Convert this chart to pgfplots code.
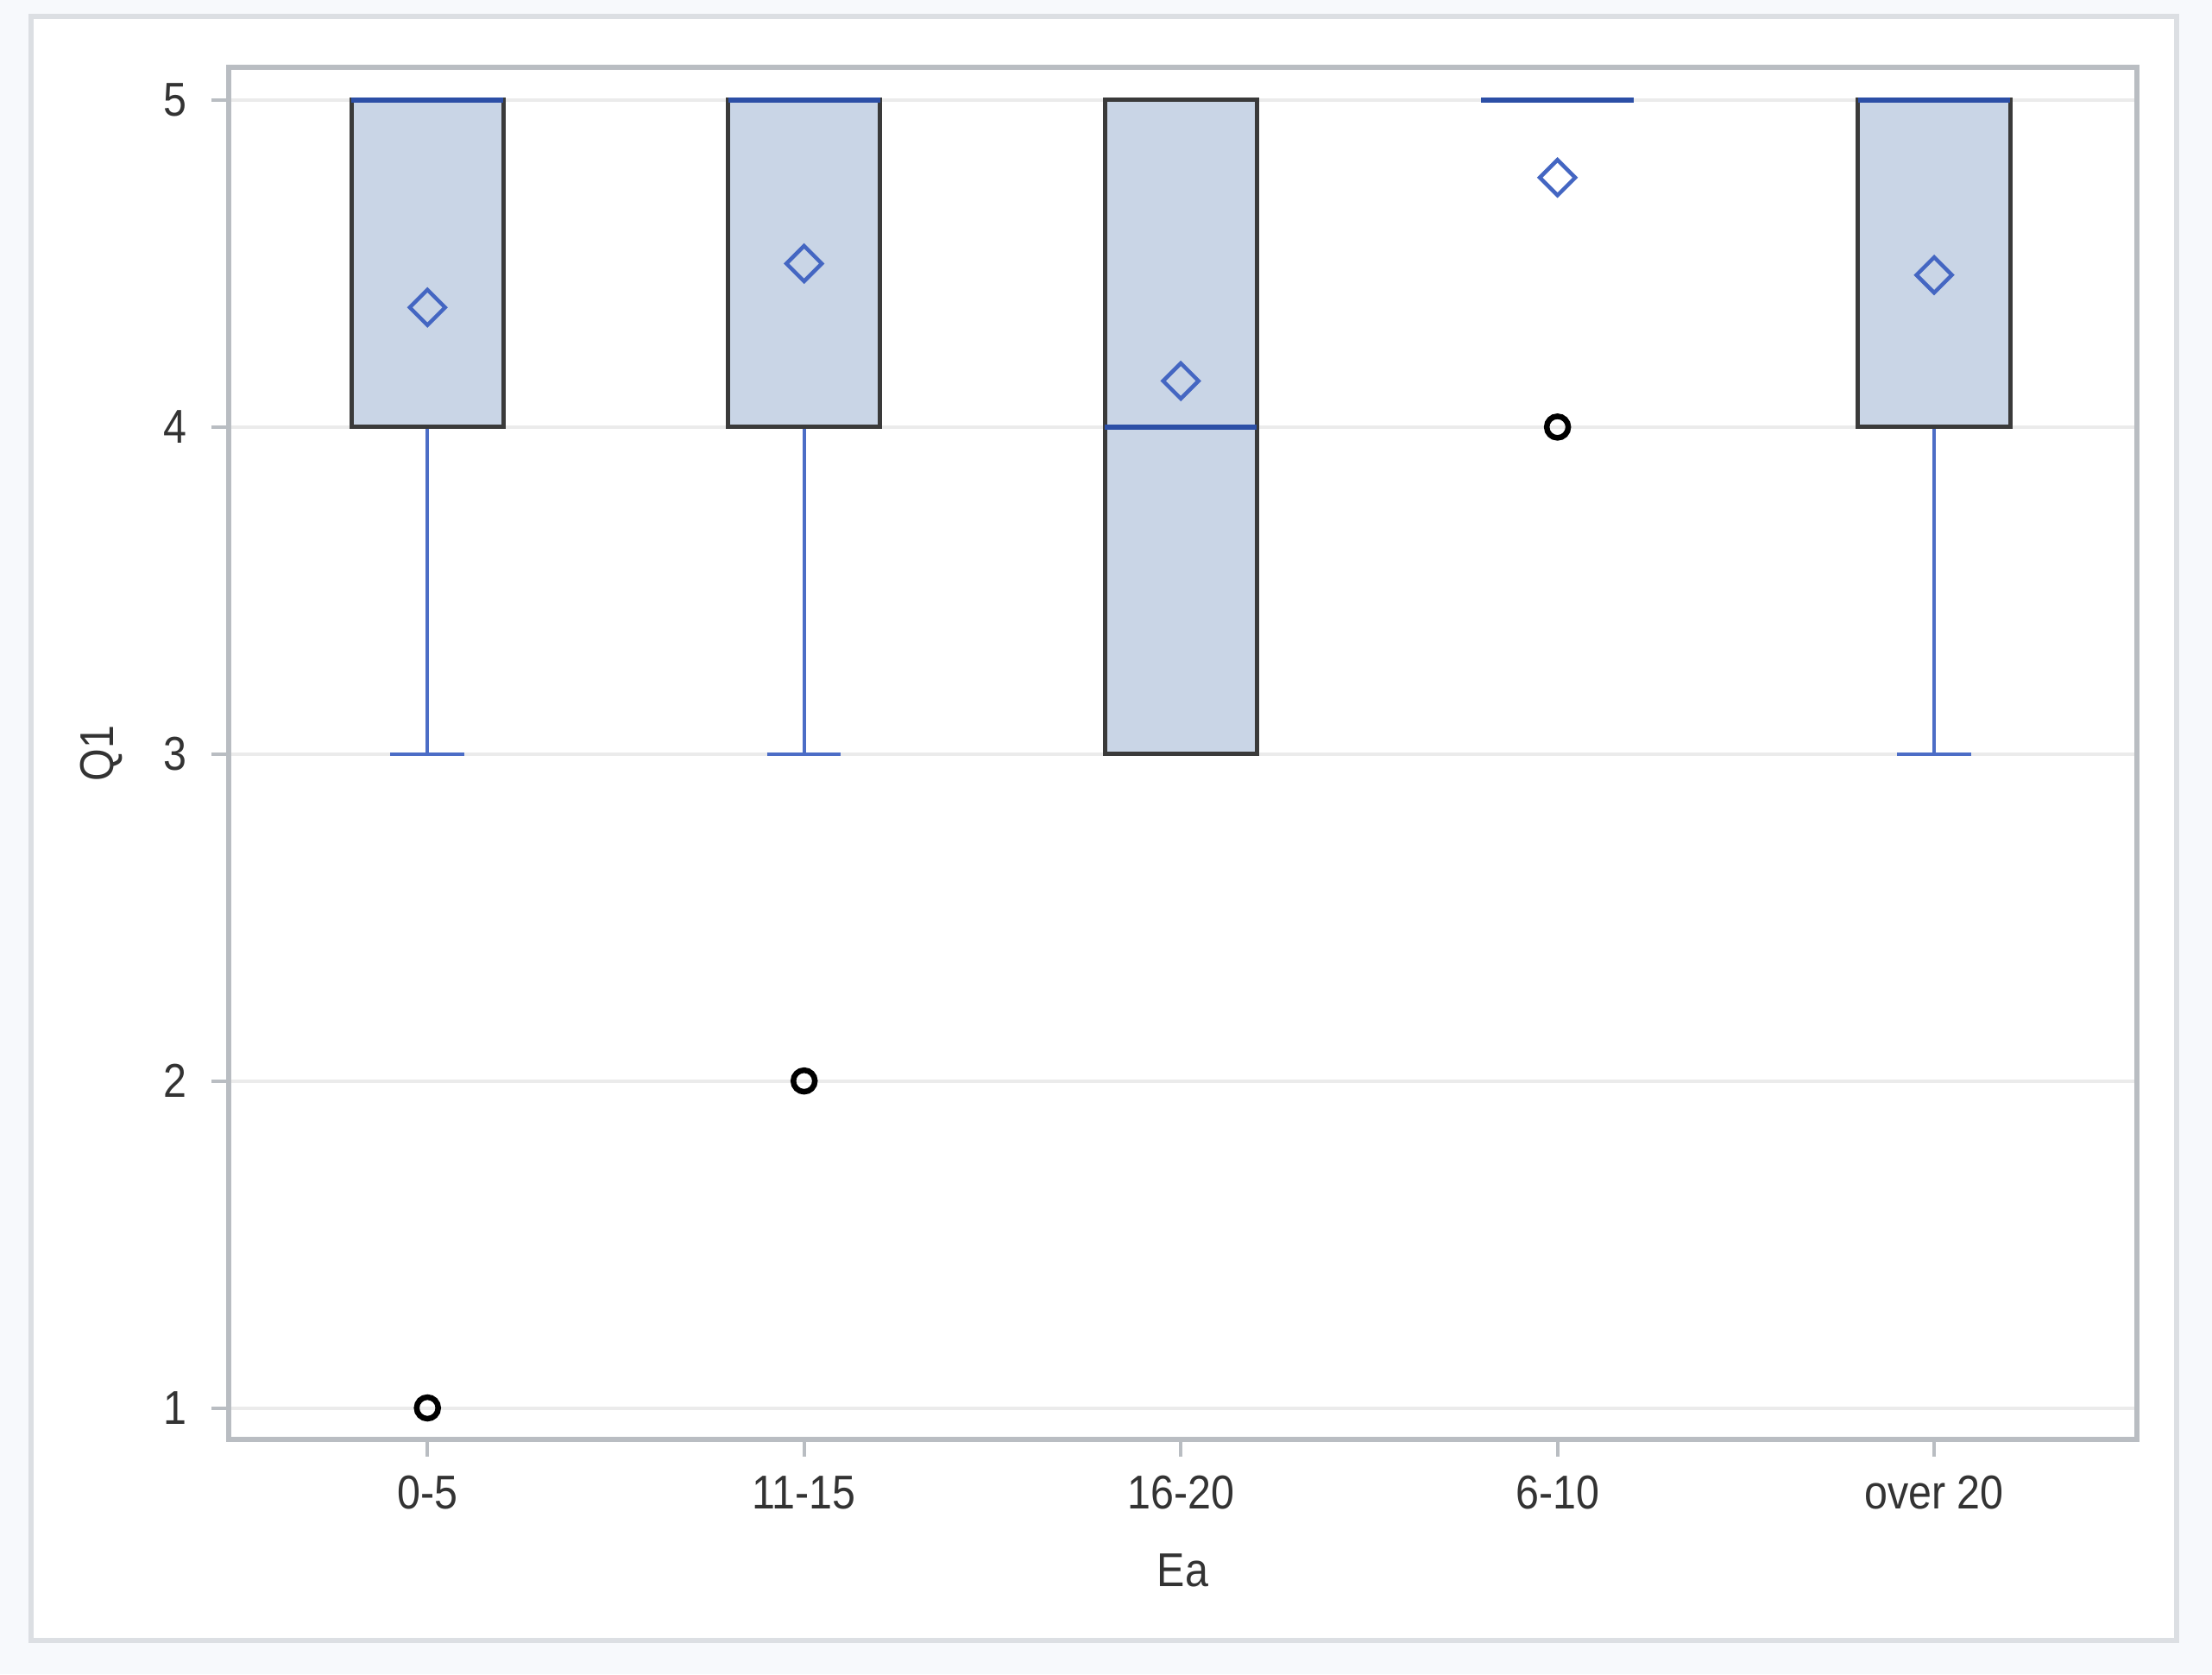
\documentclass[border=0pt]{standalone}
\usepackage{fontspec}
\setmainfont{Liberation Sans}[FakeStretch=0.88]
\usepackage{pgfplots}
\pgfplotsset{compat=1.18}
\usepgfplotslibrary{statistics}
\definecolor{bgtint}{HTML}{F7F9FC}
\definecolor{framegray}{HTML}{DCDFE3}
\definecolor{axgray}{HTML}{B9BDC2}
\definecolor{gridgray}{HTML}{EBEBEB}
\definecolor{boxfill}{HTML}{C9D5E6}
\definecolor{boxedge}{HTML}{3A3A3A}
\definecolor{medblue}{HTML}{2C4FA6}
\definecolor{whiskblue}{HTML}{4C6DC6}
\definecolor{meanblue}{HTML}{4466C2}
\definecolor{txt}{HTML}{333333}
\begin{document}
\begin{tikzpicture}
\fill[bgtint] (0,0) rectangle (512.6pt,388pt);
\filldraw[fill=white, draw=framegray, line width=1.2pt] (7.2pt,7.8pt) rectangle (504.4pt,384.1pt);
\begin{axis}[
  at={(52.96pt,54.5pt)}, anchor=south west,
  scale only axis, width=442.3pt, height=317.8pt,
  xmin=-0.528, xmax=4.539, ymin=0.905, ymax=5.099,
  xtick={0,1,2,3,4},
  xticklabels={0-5,11-15,16-20,6-10,over 20},
  ytick={1,2,3,4,5},
  ymajorgrids, grid style={gridgray, line width=0.8pt},
  axis line style={axgray, line width=1.2pt},
  tick style={axgray, line width=0.8pt},
  major tick length=4pt,
  tick align=outside, xtick pos=bottom, ytick pos=left,
  font=\fontsize{11}{13}\selectfont\color{txt},
  xticklabel style={anchor=center, yshift=-8.4pt},
  yticklabel style={anchor=east, inner sep=0pt, xshift=-5.5pt},
  xlabel={Ea}, ylabel={Q1},
  xlabel style={at={(axis description cs:0.5,-0.0957)}, anchor=center},
  ylabel style={at={(axis description cs:-0.0665,0.5)}, anchor=center},
  /pgf/number format/assume math mode=true,
  clip=false,
  boxplot/draw direction=y,
  boxplot/box extend=0.404,
  boxplot/whisker extend=0.196,
  boxplot/every box/.style={draw=boxedge, fill=boxfill, line width=1pt},
  boxplot/every whisker/.style={draw=whiskblue, line width=0.8pt},
  boxplot/every median/.style={draw=medblue, line width=1.1pt},
]
% 0-5
\addplot[boxplot prepared={draw position=0, lower whisker=3, lower quartile=4, median=5, upper quartile=5, upper whisker=5}] coordinates {};
% 11-15
\addplot[boxplot prepared={draw position=1, lower whisker=3, lower quartile=4, median=5, upper quartile=5, upper whisker=5}] coordinates {};
% 16-20
\addplot[boxplot prepared={draw position=2, lower whisker=3, lower quartile=3, median=4, upper quartile=5, upper whisker=5}] coordinates {};
% 6-10
\addplot[boxplot prepared={draw position=3, lower whisker=5, lower quartile=5, median=5, upper quartile=5, upper whisker=5}] coordinates {};
% over 20
\addplot[boxplot prepared={draw position=4, lower whisker=3, lower quartile=4, median=5, upper quartile=5, upper whisker=5}] coordinates {};
% means
\addplot[only marks, mark=square, mark size=2.9pt, mark options={rotate=45, draw=meanblue, fill=none, line width=0.9pt}] coordinates {(0,4.366) (1,4.50) (2,4.141) (3,4.763) (4,4.465)};
% outliers
\addplot[only marks, mark=o, mark size=2.5pt, mark options={draw=black, line width=1.3pt}] coordinates {(0,1) (1,2) (3,4)};
\end{axis}
\end{tikzpicture}
\end{document}
